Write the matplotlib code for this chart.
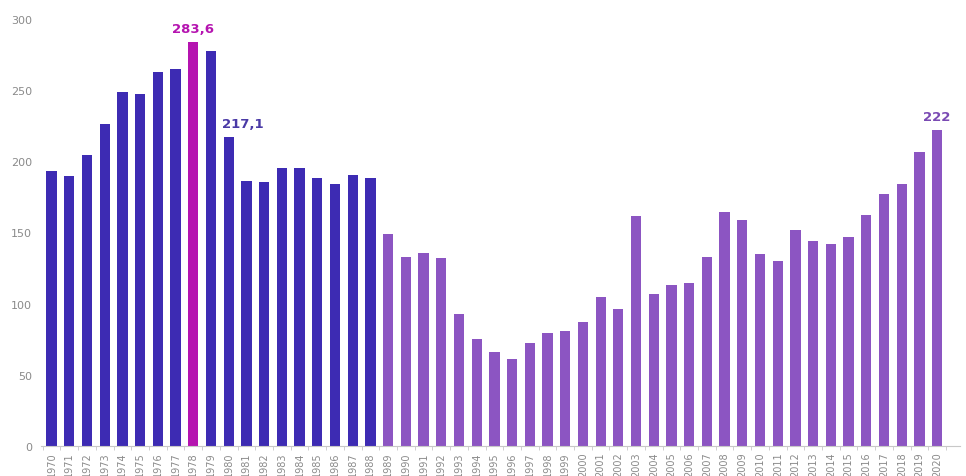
import matplotlib
matplotlib.use("Agg")
import matplotlib.pyplot as plt
import numpy as np

# Data
years = list(range(1970, 2021))
values = [193, 190, 204.5, 226, 249, 247, 263, 265, 283.6, 277.6,
          217.1, 186, 185.5, 195, 195, 188, 184, 190.5, 188.5,
          149, 133, 135.6, 132, 93, 75, 66, 61, 72.6, 79.4, 80.8,
          87, 105, 96.3, 161.6, 106.8, 113, 114.3, 132.8, 164.2, 159,
          134.7, 129.8, 152, 144, 142.2, 146.6, 162.3, 177.3, 184, 206.4,
          222]
highlight_year = 1978
split_year = 1989
labelled = {1978: "283,6", 1980: "217,1", 2020: "222"}

dark_blue = "#3d2bb3"
magenta = "#b514b0"
light_purple = "#8c55c2"

colors = []
for y in years:
    if y == highlight_year:
        colors.append(magenta)
    elif y < split_year:
        colors.append(dark_blue)
    else:
        colors.append(light_purple)

fig = plt.figure(figsize=(9.66, 4.77), dpi=100)
ax = fig.add_axes([0.042, 0.063, 0.952, 0.895])

x = np.arange(len(years))
ax.bar(x, values, width=0.58, color=colors)

# value labels; 1980 label sits to the right so it clears the 1979 bar
label_colors = {1978: magenta, 1980: "#4a3aa6", 2020: "#7a4ab3"}
for yr, txt in labelled.items():
    i = years.index(yr)
    if yr == 1980:
        ax.text(x[i] - 0.4, values[i] + 5, txt, ha="left", va="bottom",
                fontsize=9.5, fontweight="bold", color=label_colors[yr])
    else:
        ax.text(x[i], values[i] + 5, txt, ha="center", va="bottom",
                fontsize=9.5, fontweight="bold", color=label_colors[yr])

ax.set_xlim(-0.62, 51.3)
ax.set_ylim(0, 300)
ax.set_yticks(np.arange(0, 301, 50))
ax.set_xticks(x)
ax.set_xticklabels([str(y) for y in years], rotation=90, fontsize=7,
                   color="#8a8a8a")
ax.set_xticks(np.arange(-0.5, len(years) + 0.5, 1), minor=True)
ax.tick_params(axis="x", which="major", length=0, pad=4)
ax.tick_params(axis="x", which="minor", length=3, color="#c8c8c8")
ax.tick_params(axis="y", length=0, labelsize=8, labelcolor="#8a8a8a", pad=6)

for side in ["top", "right", "left"]:
    ax.spines[side].set_visible(False)
ax.spines["bottom"].set_color("#c8c8c8")

fig.savefig("out.png", dpi=100)
